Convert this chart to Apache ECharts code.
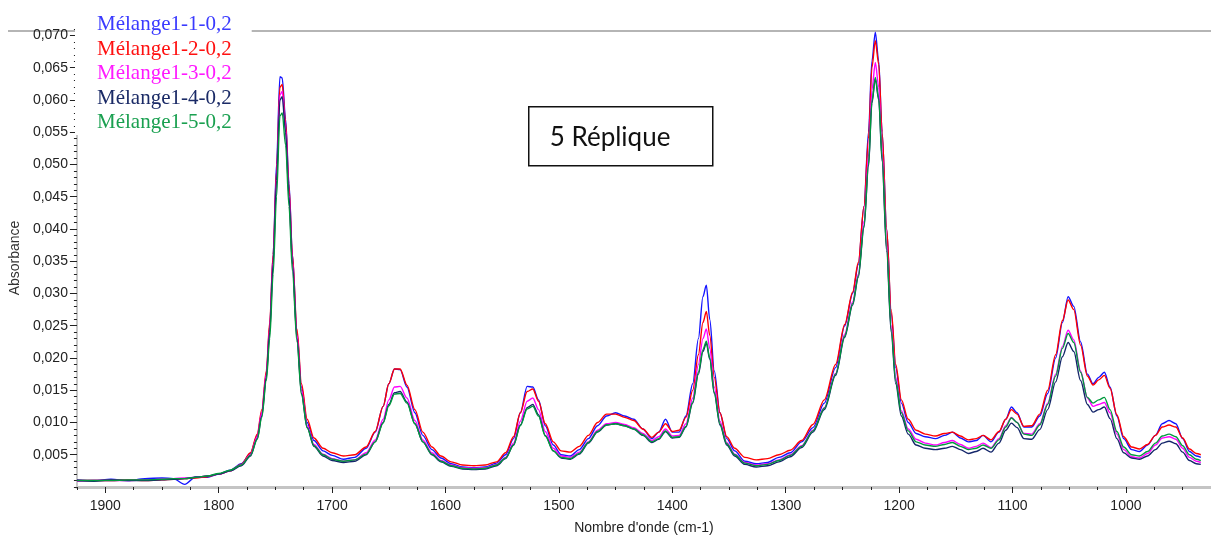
<!DOCTYPE html>
<html>
<head>
<meta charset="utf-8">
<script src="https://cdn.jsdelivr.net/npm/echarts@6/dist/echarts.min.js"></script>
<style>
  html, body { margin: 0; padding: 0; background: #ffffff; }
  #chart { width: 1211px; height: 540px; }
</style>
</head>
<body>
<div id="chart"></div>
<script>
// Wavenumbers (cm-1) shared by all five spectra, high to low
const wavenumbers = [
  1925, 1910, 1895, 1880, 1865, 1850, 1840, 1830, 1820, 1810,
  1800, 1790, 1780, 1772, 1766, 1762, 1758, 1755, 1752, 1749,
  1746, 1744, 1741, 1738, 1735, 1731, 1727, 1722, 1716, 1708,
  1700, 1690, 1680, 1670, 1662, 1655, 1650, 1645, 1640, 1634,
  1627, 1620, 1612, 1604, 1595, 1585, 1575, 1565, 1555, 1547,
  1540, 1534, 1528, 1523, 1518, 1512, 1505, 1498, 1490, 1482,
  1474, 1466, 1458, 1450, 1442, 1434, 1426, 1418, 1412, 1406,
  1400, 1394, 1388, 1382, 1377, 1373, 1370, 1367, 1363, 1358,
  1352, 1345, 1336, 1326, 1316, 1306, 1296, 1286, 1276, 1266,
  1256, 1248, 1241, 1236, 1231, 1227, 1224, 1221, 1218, 1215,
  1211, 1207, 1203, 1198, 1192, 1185, 1177, 1168, 1160, 1153,
  1146, 1139, 1132, 1126, 1119, 1112, 1106, 1101, 1096, 1090,
  1083, 1076, 1069, 1062, 1056, 1051, 1046, 1040, 1034, 1029,
  1024, 1019, 1014, 1008, 1002, 995, 988, 981, 974, 968,
  962, 956, 950, 944, 938, 934
];

// Absorbance of each replicate
const melange1_1 = [
  0.0011, 0.0010, 0.0012, 0.0010, 0.0013, 0.0014, 0.0013, 0.0004, 0.0016, 0.0015,
  0.0020, 0.0026, 0.0036, 0.0052, 0.0080, 0.0115, 0.0175, 0.0250, 0.0360, 0.0500,
  0.0636, 0.0634, 0.0570, 0.0470, 0.0360, 0.0240, 0.0155, 0.0100, 0.0072, 0.0056,
  0.0049, 0.0043, 0.0046, 0.0060, 0.0085, 0.0125, 0.0160, 0.0183, 0.0182, 0.0155,
  0.0115, 0.0080, 0.0058, 0.0045, 0.0036, 0.0031, 0.0030, 0.0031, 0.0037, 0.0050,
  0.0075, 0.0115, 0.0156, 0.0155, 0.0135, 0.0095, 0.0065, 0.0050, 0.0048, 0.0058,
  0.0075, 0.0095, 0.0110, 0.0115, 0.0110, 0.0105, 0.0090, 0.0075, 0.0085, 0.0105,
  0.0085, 0.0085, 0.0110, 0.0160, 0.0230, 0.0295, 0.0313, 0.0260, 0.0180, 0.0115,
  0.0075, 0.0056, 0.0040, 0.0036, 0.0038, 0.0046, 0.0053, 0.0070, 0.0092, 0.0130,
  0.0185, 0.0250, 0.0300, 0.0345, 0.0435, 0.0550, 0.0660, 0.0705, 0.0660, 0.0550,
  0.0400, 0.0270, 0.0185, 0.0130, 0.0100, 0.0083, 0.0078, 0.0075, 0.0080, 0.0085,
  0.0076, 0.0070, 0.0072, 0.0080, 0.0070, 0.0085, 0.0105, 0.0124, 0.0115, 0.0093,
  0.0093, 0.0110, 0.0145, 0.0200, 0.0255, 0.0295, 0.0280, 0.0225, 0.0175, 0.0160,
  0.0170, 0.0178, 0.0155, 0.0110, 0.0075, 0.0058, 0.0055, 0.0065, 0.0080, 0.0098,
  0.0103, 0.0098, 0.0075, 0.0055, 0.0048, 0.0046
];
const melange1_2 = [
  0.0010, 0.0010, 0.0010, 0.0011, 0.0010, 0.0011, 0.0012, 0.0013, 0.0014, 0.0016,
  0.0020, 0.0025, 0.0035, 0.0053, 0.0082, 0.0120, 0.0180, 0.0255, 0.0360, 0.0490,
  0.0620, 0.0624, 0.0565, 0.0465, 0.0360, 0.0245, 0.0160, 0.0105, 0.0076, 0.0060,
  0.0053, 0.0048, 0.0050, 0.0062, 0.0086, 0.0125, 0.0160, 0.0183, 0.0183, 0.0158,
  0.0120, 0.0085, 0.0062, 0.0048, 0.0039, 0.0034, 0.0033, 0.0034, 0.0039, 0.0053,
  0.0078, 0.0115, 0.0148, 0.0152, 0.0133, 0.0098, 0.0070, 0.0056, 0.0054, 0.0063,
  0.0080, 0.0100, 0.0113, 0.0113, 0.0108, 0.0103, 0.0090, 0.0077, 0.0085, 0.0098,
  0.0086, 0.0088, 0.0108, 0.0150, 0.0205, 0.0255, 0.0272, 0.0235, 0.0170, 0.0115,
  0.0078, 0.0060, 0.0046, 0.0042, 0.0044, 0.0050, 0.0057, 0.0072, 0.0097, 0.0135,
  0.0190, 0.0252, 0.0302, 0.0348, 0.0435, 0.0540, 0.0650, 0.0692, 0.0655, 0.0550,
  0.0400, 0.0275, 0.0190, 0.0135, 0.0105, 0.0088, 0.0082, 0.0079, 0.0083, 0.0085,
  0.0079, 0.0073, 0.0075, 0.0080, 0.0073, 0.0086, 0.0105, 0.0120, 0.0113, 0.0094,
  0.0095, 0.0113, 0.0150, 0.0205, 0.0258, 0.0290, 0.0275, 0.0220, 0.0172, 0.0158,
  0.0166, 0.0173, 0.0153, 0.0112, 0.0078, 0.0062, 0.0059, 0.0066, 0.0080, 0.0093,
  0.0096, 0.0093, 0.0076, 0.0059, 0.0052, 0.0050
];
const melange1_3 = [
  0.0009, 0.0010, 0.0010, 0.0010, 0.0011, 0.0012, 0.0013, 0.0014, 0.0015, 0.0017,
  0.0020, 0.0025, 0.0034, 0.0050, 0.0078, 0.0115, 0.0175, 0.0245, 0.0350, 0.0480,
  0.0608, 0.0613, 0.0555, 0.0455, 0.0350, 0.0235, 0.0150, 0.0095, 0.0066, 0.0051,
  0.0044, 0.0040, 0.0042, 0.0053, 0.0073, 0.0105, 0.0135, 0.0155, 0.0156, 0.0138,
  0.0103, 0.0073, 0.0053, 0.0041, 0.0034, 0.0030, 0.0029, 0.0030, 0.0035, 0.0046,
  0.0068, 0.0102, 0.0133, 0.0138, 0.0120, 0.0086, 0.0060, 0.0048, 0.0046, 0.0054,
  0.0070, 0.0088, 0.0098, 0.0100, 0.0097, 0.0092, 0.0083, 0.0072, 0.0078, 0.0090,
  0.0079, 0.0080, 0.0098, 0.0138, 0.0190, 0.0230, 0.0245, 0.0215, 0.0155, 0.0102,
  0.0069, 0.0051, 0.0038, 0.0034, 0.0036, 0.0042, 0.0050, 0.0064, 0.0088, 0.0123,
  0.0176, 0.0237, 0.0287, 0.0330, 0.0412, 0.0512, 0.0615, 0.0658, 0.0620, 0.0520,
  0.0375, 0.0250, 0.0170, 0.0118, 0.0090, 0.0074, 0.0068, 0.0065, 0.0069, 0.0072,
  0.0066, 0.0060, 0.0063, 0.0068, 0.0061, 0.0075, 0.0095, 0.0108, 0.0100, 0.0083,
  0.0082, 0.0098, 0.0130, 0.0175, 0.0218, 0.0243, 0.0228, 0.0180, 0.0138, 0.0125,
  0.0128, 0.0131, 0.0115, 0.0082, 0.0058, 0.0047, 0.0045, 0.0052, 0.0065, 0.0076,
  0.0078, 0.0074, 0.0060, 0.0046, 0.0040, 0.0038
];
const melange1_4 = [
  0.0010, 0.0009, 0.0011, 0.0010, 0.0010, 0.0011, 0.0012, 0.0013, 0.0015, 0.0017,
  0.0020, 0.0025, 0.0033, 0.0048, 0.0075, 0.0110, 0.0170, 0.0240, 0.0345, 0.0475,
  0.0600, 0.0605, 0.0550, 0.0450, 0.0345, 0.0230, 0.0145, 0.0092, 0.0063, 0.0048,
  0.0041, 0.0038, 0.0040, 0.0050, 0.0070, 0.0100, 0.0128, 0.0146, 0.0148, 0.0132,
  0.0098, 0.0070, 0.0050, 0.0039, 0.0032, 0.0028, 0.0027, 0.0028, 0.0033, 0.0044,
  0.0065, 0.0096, 0.0123, 0.0128, 0.0112, 0.0080, 0.0056, 0.0045, 0.0043, 0.0051,
  0.0068, 0.0085, 0.0096, 0.0098, 0.0095, 0.0090, 0.0080, 0.0069, 0.0074, 0.0086,
  0.0076, 0.0077, 0.0093, 0.0130, 0.0175, 0.0210, 0.0223, 0.0198, 0.0145, 0.0096,
  0.0065, 0.0048, 0.0035, 0.0031, 0.0033, 0.0039, 0.0047, 0.0061, 0.0085, 0.0120,
  0.0173, 0.0232, 0.0282, 0.0325, 0.0402, 0.0497, 0.0595, 0.0633, 0.0600, 0.0505,
  0.0365, 0.0240, 0.0160, 0.0110, 0.0082, 0.0065, 0.0060, 0.0058, 0.0060, 0.0063,
  0.0058, 0.0052, 0.0055, 0.0060, 0.0054, 0.0068, 0.0088, 0.0099, 0.0092, 0.0075,
  0.0074, 0.0089, 0.0120, 0.0163, 0.0202, 0.0224, 0.0210, 0.0165, 0.0128, 0.0116,
  0.0120, 0.0124, 0.0106, 0.0075, 0.0053, 0.0045, 0.0043, 0.0048, 0.0058, 0.0068,
  0.0071, 0.0067, 0.0054, 0.0041, 0.0036, 0.0035
];
const melange1_5 = [
  0.0010, 0.0010, 0.0010, 0.0011, 0.0011, 0.0012, 0.0013, 0.0013, 0.0015, 0.0017,
  0.0021, 0.0026, 0.0034, 0.0049, 0.0074, 0.0108, 0.0165, 0.0230, 0.0330, 0.0450,
  0.0575, 0.0580, 0.0530, 0.0435, 0.0335, 0.0225, 0.0143, 0.0092, 0.0064, 0.0050,
  0.0043, 0.0040, 0.0042, 0.0051, 0.0070, 0.0099, 0.0126, 0.0144, 0.0145, 0.0130,
  0.0098, 0.0070, 0.0051, 0.0040, 0.0033, 0.0029, 0.0028, 0.0029, 0.0034, 0.0045,
  0.0065, 0.0095, 0.0121, 0.0125, 0.0110, 0.0079, 0.0056, 0.0046, 0.0044, 0.0052,
  0.0069, 0.0086, 0.0096, 0.0098, 0.0095, 0.0090, 0.0081, 0.0070, 0.0075, 0.0087,
  0.0077, 0.0078, 0.0094, 0.0132, 0.0178, 0.0213, 0.0226, 0.0200, 0.0147, 0.0098,
  0.0067, 0.0050, 0.0037, 0.0033, 0.0035, 0.0041, 0.0049, 0.0063, 0.0087, 0.0122,
  0.0175, 0.0234, 0.0284, 0.0327, 0.0405, 0.0500, 0.0598, 0.0635, 0.0603, 0.0510,
  0.0370, 0.0245, 0.0165, 0.0115, 0.0087, 0.0070, 0.0065, 0.0063, 0.0066, 0.0069,
  0.0063, 0.0058, 0.0060, 0.0065, 0.0060, 0.0073, 0.0093, 0.0107, 0.0100, 0.0082,
  0.0080, 0.0096, 0.0128, 0.0172, 0.0215, 0.0238, 0.0224, 0.0178, 0.0139, 0.0130,
  0.0135, 0.0139, 0.0120, 0.0086, 0.0062, 0.0050, 0.0048, 0.0055, 0.0068, 0.0079,
  0.0082, 0.0078, 0.0064, 0.0050, 0.0043, 0.0041
];

const seriesNames = ['Mélange1-1-0,2', 'Mélange1-2-0,2', 'Mélange1-3-0,2', 'Mélange1-4-0,2', 'Mélange1-5-0,2'];
const seriesValues = [melange1_1, melange1_2, melange1_3, melange1_4, melange1_5];
const seriesColors = ['#1414ff', '#ff0000', '#ff00ff', '#14266a', '#00993d'];
const legendColors = ['#3a3aff', '#ff1010', '#ff1aff', '#1a2a66', '#1aa050'];

// Axis ranges
const X_MIN = 925, X_MAX = 1925;
const Y_MIN = 0, Y_MAX = 0.071;

const chart = echarts.init(document.getElementById('chart'), null, { renderer: 'canvas' });

const narrowFont = '"Liberation Sans Narrow", "Liberation Sans", Arial, sans-serif';

const series = seriesNames.map((name, s) => ({
  name,
  type: 'line',
  xAxisIndex: 0,
  yAxisIndex: 0,
  data: wavenumbers.map((w, i) => [w, seriesValues[s][i]]),
  showSymbol: false,
  smooth: 0.3,
  smoothMonotone: 'x',
  lineStyle: { color: seriesColors[s], width: 1.4 },
  itemStyle: { color: seriesColors[s] },
  emphasis: { disabled: true }
}));

chart.setOption({
  animation: false,
  backgroundColor: '#ffffff',
  grid: { left: 76, right: -10, top: 29, bottom: 49.5, containLabel: false },
  legend: {
    orient: 'vertical',
    left: 75,
    top: 12,
    padding: [2, 20, 2, 17],
    backgroundColor: '#ffffff',
    itemWidth: 0,
    itemHeight: 0,
    itemGap: 3.5,
    icon: 'rect',
    selectedMode: false,
    z: 10,
    data: seriesNames.map((n, i) => ({ name: n, textStyle: { color: legendColors[i] } })),
    textStyle: { fontFamily: '"Liberation Serif", "Times New Roman", serif', fontSize: 21 }
  },
  xAxis: [
    {
      // minor ticks every 25 cm-1 plus the grey axis bar
      type: 'value', inverse: true, min: X_MIN, max: X_MAX, interval: 25,
      position: 'bottom',
      axisLine: { show: true, lineStyle: { color: '#c4c4c4', width: 3 } },
      axisTick: { show: true, length: 3, lineStyle: { color: '#222', width: 1 } },
      axisLabel: { show: false },
      splitLine: { show: false }
    },
    {
      // major ticks and labels every 100 cm-1
      type: 'value', inverse: true, min: X_MIN, max: X_MAX,
      splitNumber: 10, minInterval: 100, maxInterval: 100,
      position: 'bottom',
      axisLine: { show: false },
      axisTick: { show: true, length: 6, lineStyle: { color: '#222', width: 1 } },
      axisLabel: {
        show: true, margin: 12, showMinLabel: false, showMaxLabel: false,
        color: '#222', fontFamily: narrowFont, fontSize: 14,
        formatter: v => (v % 100 === 0 ? String(v) : '')
      },
      splitLine: { show: false },
      name: "Nombre d'onde (cm-1)",
      nameLocation: 'middle',
      nameGap: 34,
      nameTextStyle: { color: '#222', fontFamily: narrowFont, fontSize: 14 }
    }
  ],
  yAxis: [
    {
      // minor ticks every 0.001 plus the axis line
      type: 'value', min: Y_MIN, max: Y_MAX, interval: 0.001,
      position: 'left',
      axisLine: { show: true, lineStyle: { color: '#c8c8c8', width: 2 } },
      axisTick: { show: true, length: 3, lineStyle: { color: '#222', width: 1 } },
      axisLabel: { show: false },
      splitLine: { show: false }
    },
    {
      // major ticks and labels every 0.005
      type: 'value', min: Y_MIN, max: Y_MAX, interval: 0.005,
      position: 'left', offset: 0,
      axisLine: { show: false },
      axisTick: { show: true, length: 7, lineStyle: { color: '#222', width: 1 } },
      axisLabel: {
        show: true, margin: 9, showMinLabel: false, showMaxLabel: false,
        color: '#222', fontFamily: narrowFont, fontSize: 14,
        formatter: v => v.toFixed(3).replace('.', ',')
      },
      splitLine: { show: false },
      name: 'Absorbance',
      nameLocation: 'middle',
      nameGap: 51,
      nameTextStyle: { color: '#333', fontFamily: '"Liberation Sans", Arial, sans-serif', fontSize: 14 }
    }
  ],
  graphic: [
    {
      type: 'line', z: 0, silent: true,
      shape: { x1: 8, y1: 31, x2: 1211, y2: 31 },
      style: { stroke: '#9c9c9c', lineWidth: 1.5 }
    },
    {
      type: 'group', left: 528, top: 106, z: 20, silent: true,
      children: [
        {
          type: 'rect',
          shape: { x: 0, y: 0, width: 184, height: 59 },
          style: { fill: '#ffffff', stroke: '#111', lineWidth: 1.5 }
        },
        {
          type: 'text', x: 21, y: 31,
          style: {
            text: '5 Réplique',
            fill: '#111',
            font: '26px Lato, "Open Sans", sans-serif',
            textVerticalAlign: 'middle',
            verticalAlign: 'middle'
          }
        }
      ]
    }
  ],
  series
});
</script>
</body>
</html>
